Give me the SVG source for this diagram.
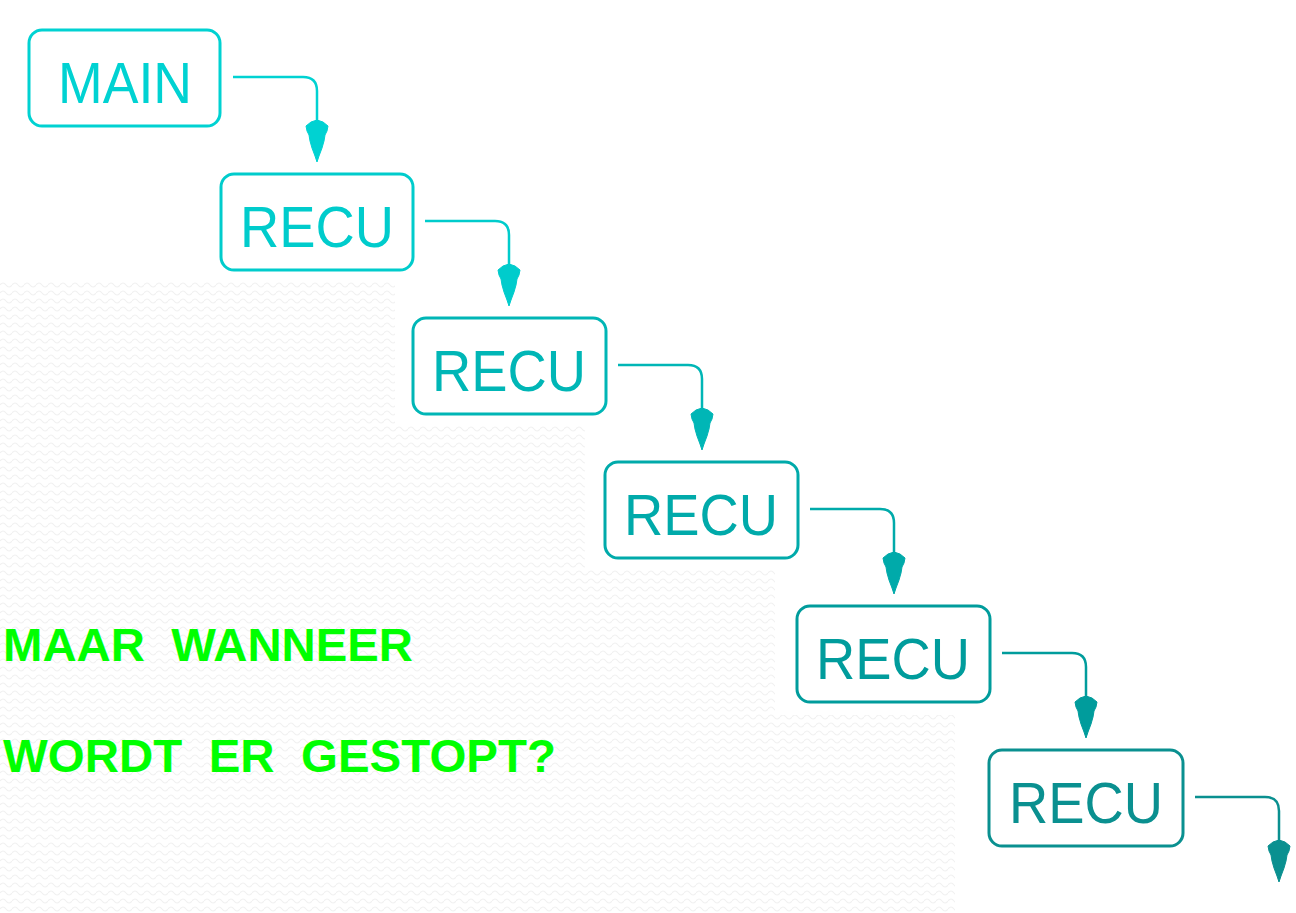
<svg xmlns="http://www.w3.org/2000/svg" width="1296" height="913" viewBox="0 0 1296 913">
<style>
.box{fill:none;stroke-width:3}
.lbl{font-family:"Liberation Sans",Arial,Helvetica,sans-serif;font-size:57px;text-anchor:middle}
.con{fill:none;stroke-width:2.5}
.q{font-family:"Liberation Sans",Arial,sans-serif;font-weight:bold;font-size:47px;fill:#00ff00}
</style>
<defs>
<pattern id="wave" width="12" height="8" patternUnits="userSpaceOnUse">
<path d="M0,5 Q3,1 6,5 T12,5" fill="none" stroke="#f1f1f1" stroke-width="1.2"/>
</pattern>
<path id="ah" d="M0,0 L-6,2 L-11,6 L-10,11 L-8,15 L-7,21 L-5,28 L-2,36 L0,42 L2,36 L5,28 L7,21 L8,15 L10,11 L11,6 L6,2 Z"/>
</defs>
<rect width="1296" height="913" fill="#ffffff"/>
<polygon points="0,280 395,280 395,425 585,425 585,570 775,570 775,715 955,715 955,913 0,913" fill="url(#wave)"/>
<g id="connectors">
<g stroke="#00d2d2" fill="#00d2d2"><path class="con" d="M233,77 H303 Q317,77 317,91 V122"/><use href="#ah" x="317" y="120" stroke-width="1"/></g>
<g stroke="#00cccc" fill="#00cccc"><path class="con" d="M425,221 H495 Q509,221 509,235 V266"/><use href="#ah" x="509" y="264" stroke-width="1"/></g>
<g stroke="#00b6b6" fill="#00b6b6"><path class="con" d="M618,365 H688 Q702,365 702,379 V410"/><use href="#ah" x="702" y="408" stroke-width="1"/></g>
<g stroke="#00aaaa" fill="#00aaaa"><path class="con" d="M810,509 H880 Q894,509 894,523 V554"/><use href="#ah" x="894" y="552" stroke-width="1"/></g>
<g stroke="#009c9c" fill="#009c9c"><path class="con" d="M1002,653 H1072 Q1086,653 1086,667 V698"/><use href="#ah" x="1086" y="696" stroke-width="1"/></g>
<g stroke="#0a9090" fill="#0a9090"><path class="con" d="M1195,797 H1265 Q1279,797 1279,811 V842"/><use href="#ah" x="1279" y="840" stroke-width="1"/></g>
</g>
<g id="main"><rect class="box" x="29" y="30" width="191" height="96" rx="13" stroke="#00d2d2"/><text class="lbl" x="125" y="103" fill="#00d2d2" textLength="134" lengthAdjust="spacingAndGlyphs">MAIN</text></g>
<g id="recu1"><rect class="box" x="221" y="174" width="192" height="96" rx="13" stroke="#00cccc"/><text class="lbl" x="317" y="247" fill="#00cccc" textLength="154" lengthAdjust="spacingAndGlyphs">RECU</text></g>
<g id="recu2"><rect class="box" x="413" y="318" width="193" height="96" rx="13" stroke="#00b6b6"/><text class="lbl" x="509" y="391" fill="#00b6b6" textLength="154" lengthAdjust="spacingAndGlyphs">RECU</text></g>
<g id="recu3"><rect class="box" x="605" y="462" width="193" height="96" rx="13" stroke="#00aaaa"/><text class="lbl" x="701" y="535" fill="#00aaaa" textLength="154" lengthAdjust="spacingAndGlyphs">RECU</text></g>
<g id="recu4"><rect class="box" x="797" y="606" width="193" height="96" rx="13" stroke="#009c9c"/><text class="lbl" x="893" y="679" fill="#009c9c" textLength="154" lengthAdjust="spacingAndGlyphs">RECU</text></g>
<g id="recu5"><rect class="box" x="989" y="750" width="194" height="96" rx="13" stroke="#0a9090"/><text class="lbl" x="1086" y="823" fill="#0a9090" textLength="154" lengthAdjust="spacingAndGlyphs">RECU</text></g>
<g id="question">
<text class="q" x="3" y="661" textLength="410" lengthAdjust="spacingAndGlyphs" xml:space="preserve">MAAR  WANNEER</text>
<text class="q" x="3" y="772" textLength="553" lengthAdjust="spacingAndGlyphs" xml:space="preserve">WORDT  ER  GESTOPT?</text>
</g>
</svg>
